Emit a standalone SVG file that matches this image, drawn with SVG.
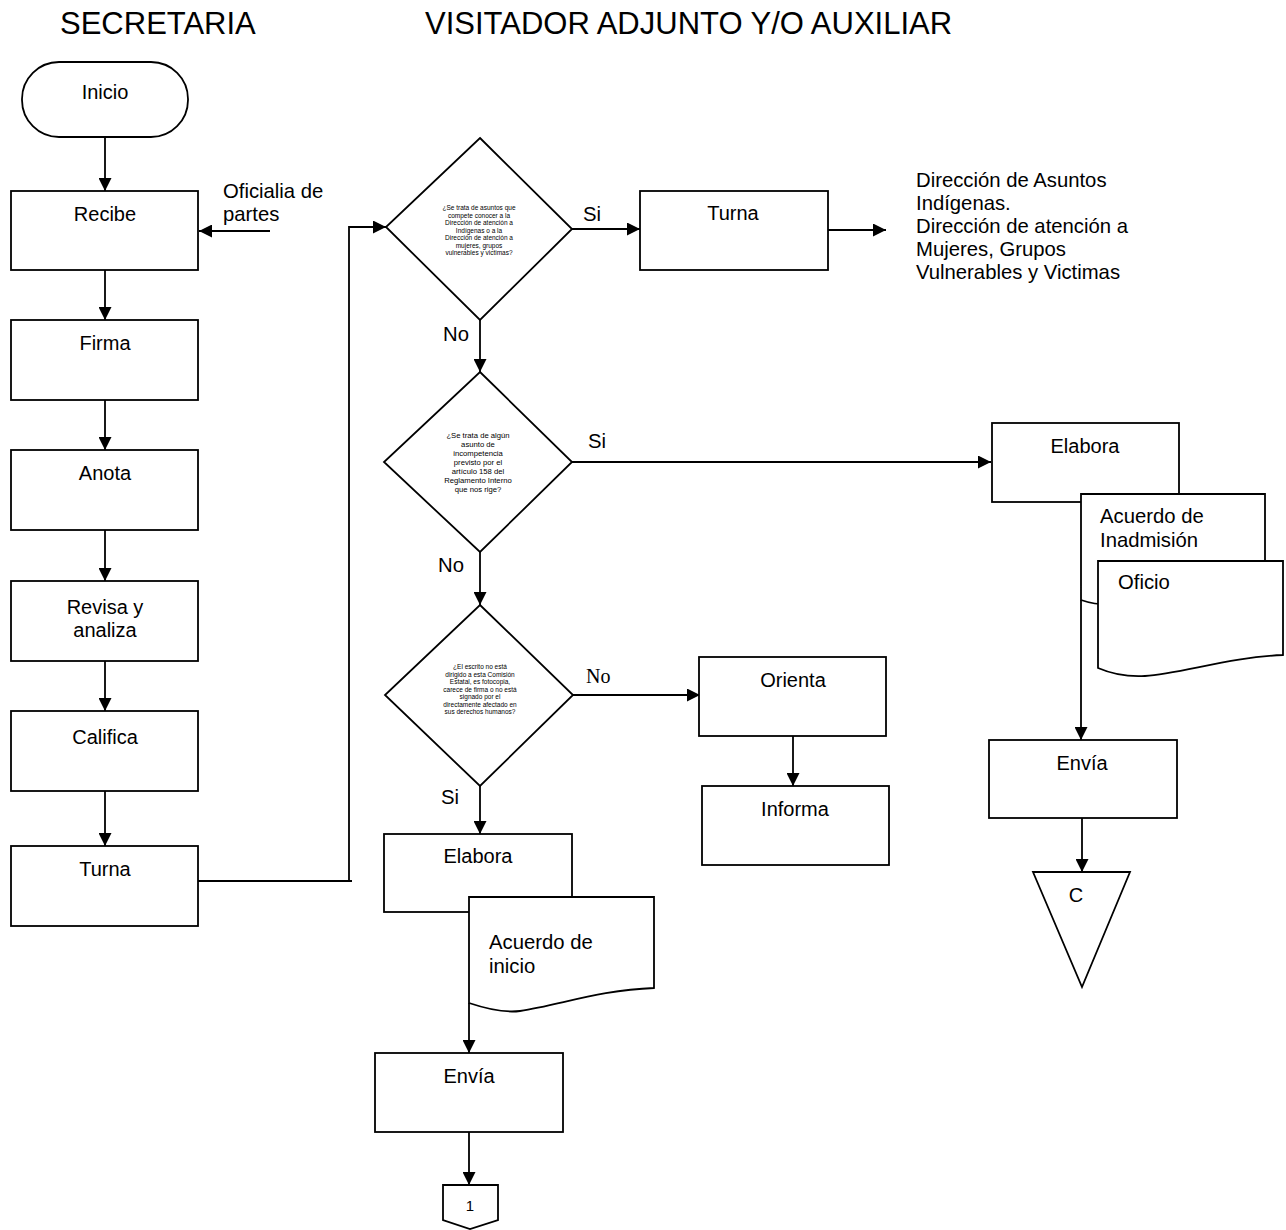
<svg xmlns="http://www.w3.org/2000/svg" width="1286" height="1230" viewBox="0 0 1286 1230">
  <style>
    .shape { fill: #ffffff; stroke: #000000; stroke-width: 1.8; }
    .wire { fill: none; stroke: #000000; stroke-width: 1.8; }
    .arrow { fill: none; stroke: #000000; stroke-width: 1.8; marker-end: url(#head); }
    text { font-family: "Liberation Sans", Arial, sans-serif; fill: #000000; }
    .title { font-size: 31px; }
    .lbl { font-size: 20px; text-anchor: middle; }
    .note { font-size: 20.3px; }
    .q1 { font-size: 6.5px; text-anchor: middle; }
    .q2 { font-size: 7.7px; text-anchor: middle; }
    .serif { font-family: "Liberation Serif", "Times New Roman", serif; font-size: 20px; }
  </style>
  <defs>
    <marker id="head" viewBox="0 0 10 10" refX="10" refY="5" markerWidth="15" markerHeight="13" markerUnits="userSpaceOnUse" orient="auto">
      <path d="M0,0 L10,5 L0,10 Z" fill="#000000"/>
    </marker>
  </defs>

  <rect width="1286" height="1230" fill="#ffffff"/>

  <!-- lane headings -->
  <text class="title" x="60" y="34">SECRETARIA</text>
  <text class="title" x="425" y="34">VISITADOR ADJUNTO Y/O AUXILIAR</text>

  <!-- connectors -->
  <g id="connectors">
    <line class="arrow" x1="105" y1="137" x2="105" y2="191"/>
    <line class="arrow" x1="270" y1="231" x2="199" y2="231"/>
    <line class="arrow" x1="105" y1="270" x2="105" y2="320"/>
    <line class="arrow" x1="105" y1="400" x2="105" y2="450"/>
    <line class="arrow" x1="105" y1="530" x2="105" y2="581"/>
    <line class="arrow" x1="105" y1="661" x2="105" y2="711"/>
    <line class="arrow" x1="105" y1="791" x2="105" y2="846"/>
    <polyline class="wire" points="198,881 352,881"/>
    <polyline class="arrow" points="349,881 349,227 386,227"/>
    <line class="arrow" x1="572" y1="229" x2="640" y2="229"/>
    <line class="arrow" x1="828" y1="230" x2="886" y2="230"/>
    <line class="arrow" x1="480" y1="320" x2="480" y2="372"/>
    <line class="arrow" x1="572" y1="462" x2="991" y2="462"/>
    <line class="arrow" x1="480" y1="552" x2="480" y2="605"/>
    <line class="arrow" x1="573" y1="695" x2="700" y2="695"/>
    <line class="arrow" x1="793" y1="736" x2="793" y2="786"/>
    <line class="arrow" x1="480" y1="786" x2="480" y2="834"/>
    <line class="arrow" x1="469" y1="1003" x2="469" y2="1053"/>
    <line class="arrow" x1="469" y1="1132" x2="469" y2="1185"/>
    <line class="arrow" x1="1081" y1="600" x2="1081" y2="740"/>
    <line class="arrow" x1="1082" y1="818" x2="1082" y2="872"/>
  </g>

  <!-- secretaria lane -->
  <g id="inicio">
    <rect class="shape" x="22" y="62" width="166" height="75" rx="37" ry="37"/>
    <text class="lbl" x="105" y="99">Inicio</text>
  </g>
  <g id="recibe">
    <rect class="shape" x="11" y="191" width="187" height="79"/>
    <text class="lbl" x="105" y="221">Recibe</text>
  </g>
  <g id="oficialia">
    <text class="note" x="223" y="198">Oficialia de</text>
    <text class="note" x="223" y="221">partes</text>
  </g>
  <g id="firma">
    <rect class="shape" x="11" y="320" width="187" height="80"/>
    <text class="lbl" x="105" y="350">Firma</text>
  </g>
  <g id="anota">
    <rect class="shape" x="11" y="450" width="187" height="80"/>
    <text class="lbl" x="105" y="480">Anota</text>
  </g>
  <g id="revisa">
    <rect class="shape" x="11" y="581" width="187" height="80"/>
    <text class="lbl" x="105" y="614">Revisa y</text>
    <text class="lbl" x="105" y="637">analiza</text>
  </g>
  <g id="califica">
    <rect class="shape" x="11" y="711" width="187" height="80"/>
    <text class="lbl" x="105" y="744">Califica</text>
  </g>
  <g id="turna-sec">
    <rect class="shape" x="11" y="846" width="187" height="80"/>
    <text class="lbl" x="105" y="876">Turna</text>
  </g>

  <!-- visitador lane -->
  <g id="decision-direccion">
    <polygon class="shape" points="480,138 572,229 480,320 386,227"/>
    <text class="q1" x="479" y="210">¿Se trata de asuntos que</text>
    <text class="q1" x="479" y="217.5">compete conocer a la</text>
    <text class="q1" x="479" y="225">Dirección de atención a</text>
    <text class="q1" x="479" y="232.5">Indígenas o a la</text>
    <text class="q1" x="479" y="240">Dirección de atención a</text>
    <text class="q1" x="479" y="247.5">mujeres, grupos</text>
    <text class="q1" x="479" y="255">vulnerables y victimas?</text>
    <text class="note" x="583" y="221">Si</text>
    <text class="note" x="443" y="341">No</text>
  </g>
  <g id="turna-vis">
    <rect class="shape" x="640" y="191" width="188" height="79"/>
    <text class="lbl" x="733" y="220">Turna</text>
  </g>
  <g id="destinos">
    <text class="note" x="916" y="187">Dirección de Asuntos</text>
    <text class="note" x="916" y="210">Indígenas.</text>
    <text class="note" x="916" y="233">Dirección de atención a</text>
    <text class="note" x="916" y="256">Mujeres, Grupos</text>
    <text class="note" x="916" y="279">Vulnerables y Victimas</text>
  </g>

  <g id="decision-incompetencia">
    <polygon class="shape" points="480,372 572,462 480,552 384,462"/>
    <text class="q2" x="478" y="438">¿Se trata de algún</text>
    <text class="q2" x="478" y="447">asunto de</text>
    <text class="q2" x="478" y="456">incompetencia</text>
    <text class="q2" x="478" y="465">previsto por el</text>
    <text class="q2" x="478" y="474">artículo 158 del</text>
    <text class="q2" x="478" y="483">Reglamento Interno</text>
    <text class="q2" x="478" y="492">que nos rige?</text>
    <text class="note" x="588" y="448">Si</text>
    <text class="note" x="438" y="572">No</text>
  </g>

  <g id="elabora-inadmision">
    <rect class="shape" x="992" y="423" width="187" height="79"/>
    <text class="lbl" x="1085" y="453">Elabora</text>
  </g>
  <g id="acuerdo-inadmision">
    <path class="shape" d="M1081,494 H1265 V590 C1220,582 1175,592 1145,600 C1120,606 1098,606 1081,600 Z"/>
    <text class="note" x="1100" y="523">Acuerdo de</text>
    <text class="note" x="1100" y="547">Inadmisión</text>
  </g>
  <g id="oficio">
    <path class="shape" d="M1098,561 H1283 V655 C1230,657 1180,674 1145,676 C1128,677 1112,674 1098,668 Z"/>
    <text class="note" x="1118" y="589">Oficio</text>
  </g>
  <g id="envia-c">
    <rect class="shape" x="989" y="740" width="188" height="78"/>
    <text class="lbl" x="1082" y="770">Envía</text>
  </g>
  <g id="conector-c">
    <polygon class="shape" points="1033,872 1130,872 1082,987"/>
    <text class="lbl" x="1076" y="902">C</text>
  </g>

  <g id="decision-escrito">
    <polygon class="shape" points="480,605 573,695 480,786 385,695"/>
    <text class="q1" x="480" y="669">¿El escrito no está</text>
    <text class="q1" x="480" y="676.5">dirigido a esta Comisión</text>
    <text class="q1" x="480" y="684">Estatal, es fotocopia,</text>
    <text class="q1" x="480" y="691.5">carece de firma o no está</text>
    <text class="q1" x="480" y="699">signado por el</text>
    <text class="q1" x="480" y="706.5">directamente afectado en</text>
    <text class="q1" x="480" y="714">sus derechos humanos?</text>
    <text class="serif" x="586" y="683">No</text>
    <text class="note" x="441" y="804">Si</text>
  </g>
  <g id="orienta">
    <rect class="shape" x="699" y="657" width="187" height="79"/>
    <text class="lbl" x="793" y="687">Orienta</text>
  </g>
  <g id="informa">
    <rect class="shape" x="702" y="786" width="187" height="79"/>
    <text class="lbl" x="795" y="816">Informa</text>
  </g>

  <g id="elabora-inicio">
    <rect class="shape" x="384" y="834" width="188" height="78"/>
    <text class="lbl" x="478" y="863">Elabora</text>
  </g>
  <g id="acuerdo-inicio">
    <path class="shape" d="M469,897 H654 V988 C600,990 560,1005 520,1011 C505,1013 490,1010 469,1003 Z"/>
    <text class="note" x="489" y="949">Acuerdo de</text>
    <text class="note" x="489" y="973">inicio</text>
  </g>
  <g id="envia-1">
    <rect class="shape" x="375" y="1053" width="188" height="79"/>
    <text class="lbl" x="469" y="1083">Envía</text>
  </g>
  <g id="conector-1">
    <polygon class="shape" points="443,1185 498,1185 498,1220 470,1229 443,1220"/>
    <text class="lbl" x="470" y="1211" style="font-size:15px">1</text>
  </g>
</svg>
